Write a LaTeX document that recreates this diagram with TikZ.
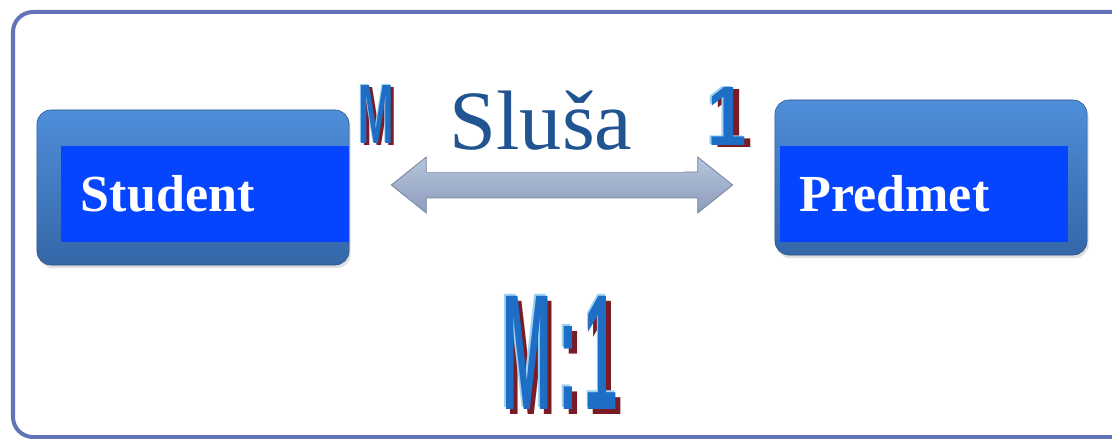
\documentclass[tikz,border=0pt]{standalone}
\usepackage{fontspec}
\setmainfont{Liberation Serif}
\newfontfamily\condfont[FakeStretch=0.44]{Liberation Sans}
\usetikzlibrary{calc,shadows}

\definecolor{framec}{HTML}{6373B8}
\definecolor{entitytop}{HTML}{4E8ED9}
\definecolor{entitybot}{HTML}{3567A8}
\definecolor{entityfill}{HTML}{0645FF}
\definecolor{relname}{HTML}{205591}
\definecolor{reliefblue}{HTML}{1F6EC6}
\definecolor{reliefdark}{HTML}{7A1C26}
\definecolor{relieflight}{HTML}{9DD2F4}
\definecolor{arrowtop}{HTML}{B7C4DB}
\definecolor{arrowmid}{HTML}{EEF2F8}
\definecolor{arrowbot}{HTML}{8C9DBC}

% blue letters with a dark red drop and a light rim
\newcommand{\relief}[1]{%
  \rlap{\kern0.035em\raisebox{-0.03em}{\color{reliefdark}#1}}%
  \rlap{\kern-0.012em\raisebox{0.012em}{\color{relieflight}#1}}%
  {\color{reliefblue}#1}}

\tikzset{
  entity/.style={rounded corners=0.35cm, top color=entitytop, bottom color=entitybot,
    draw=entitybot!80!black, minimum width=7.8cm, minimum height=3.875cm,
    drop shadow={opacity=0.25, shadow xshift=0.04cm, shadow yshift=-0.08cm}},
  entlabel/.style={fill=entityfill, text=white, font=\bfseries\fontsize{37}{40}\selectfont,
    minimum height=2.4cm, text width=6.2cm, inner xsep=0.5cm, anchor=east},
  card/.style={inner sep=0pt, font=\condfont\bfseries\fontsize{60}{60}\selectfont},
  relarrow/.style={top color=arrowtop, middle color=arrowmid, bottom color=arrowbot,
    draw=arrowbot!85!black, line width=0.6pt}
}

\begin{document}
\begin{tikzpicture}[x=0.025cm, y=-0.025cm]
\useasboundingbox (0,0) rectangle (1112,439);
\clip (0,0) rectangle (1112,439);
\fill[white] (0,0) rectangle (1112,439);
\draw[framec, line width=0.1cm, rounded corners=0.5cm] (13,12) rectangle (1150,437);

% the two entities
\node[entity] (stu) at (193,187.5) {};
\node[entity] (pred) at (931,177.5) {};
\node[entlabel] (stulbl) at (stu.east |- 0,194) {Student};
\node[entlabel] (predlbl) at (1068,194) {Predmet};

% double arrow between them
\coordinate (la) at ($(stu.east)+(42,-2.5)$);
\coordinate (ra) at ($(pred.west)+(-42,7.5)$);
\path[relarrow] (la) -- ++(35,-28) -- ++(0,15) -- ($(ra)+(-35,-13)$) -- ++(0,-15)
  -- (ra) -- ++(-35,28) -- ++(0,-15) -- ($(la)+(35,13)$) -- ++(0,15) -- cycle;

\node[fill=white, minimum width=6.375cm, minimum height=2.55cm, text width=5.3cm,
  inner xsep=0.55cm, align=left, text=relname, font=\fontsize{60}{62}\selectfont]
  (rel) at (555.5,121) {Sluša};

% cardinalities
\node[card, xscale=1.15] (cardM) at (376,115) {\relief{M}};
\node[card, xscale=1.9] (card1) at (727,117) {\relief{1}};
\node[card, font=\condfont\bfseries\fontsize{117}{117}\selectfont, xscale=0.82]
  (ratio) at (560,354) {\relief{M}\kern0.05em\relief{:}\kern0.05em\relief{1}};
\end{tikzpicture}
\end{document}
